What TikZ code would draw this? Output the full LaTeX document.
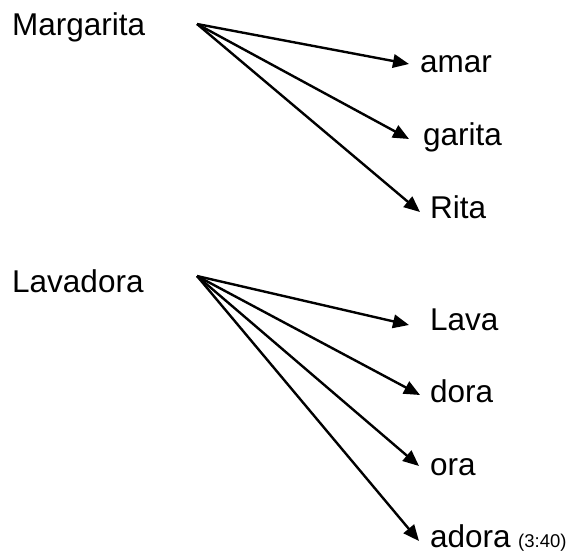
\documentclass[tikz,border=0pt]{standalone}
\usepackage{fontspec}
\setmainfont{Liberation Sans}
\usetikzlibrary{arrows.meta}
\begin{document}
\begin{tikzpicture}[x=1pt,y=-1pt,
  word/.style={anchor=base west,inner sep=0pt,font=\fontsize{31.5}{36}\selectfont},
  small/.style={anchor=base west,inner sep=0pt,font=\fontsize{18.5}{22}\selectfont},
  link/.style={line width=2.4pt,-{Triangle[length=16pt,width=13.5pt]}}]
\useasboundingbox (0,0) rectangle (576,554);
% Margarita group
\node[word] (marg) at (12,35) {Margarita};
\coordinate (ms) at (197,24);
\node[word] (amar) at (420,72) {amar};
\node[word] (garita) at (423,145) {garita};
\node[word] (rita) at (430,218) {Rita};
\coordinate (tamar) at (409,64);
\coordinate (tgarita) at (409,139);
\coordinate (trita) at (420,212);
\draw[link] (ms) -- (tamar);
\draw[link] (ms) -- (tgarita);
\draw[link] (ms) -- (trita);
% Lavadora group
\node[word] (lavadora) at (12,292) {Lavadora};
\coordinate (ls) at (197,276);
\node[word] (lava) at (430,330) {Lava};
\node[word] (dora) at (430,402) {dora};
\node[word] (ora) at (430,475) {ora};
\node[word] (adora) at (430,547) {adora};
\node[small] (time) at (518,547) {(3:40)};
\coordinate (tlava) at (409,325);
\coordinate (tdora) at (420,395);
\coordinate (tora) at (419,466);
\coordinate (tadora) at (419,541);
\draw[link] (ls) -- (tlava);
\draw[link] (ls) -- (tdora);
\draw[link] (ls) -- (tora);
\draw[link] (ls) -- (tadora);
\end{tikzpicture}
\end{document}
